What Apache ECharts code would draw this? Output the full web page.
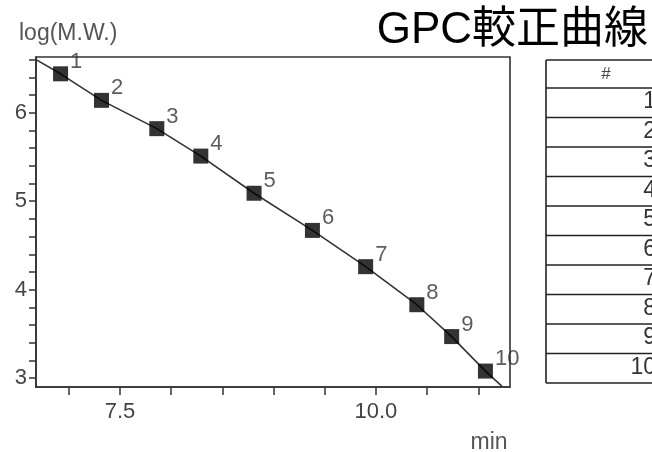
<!DOCTYPE html>
<html><head><meta charset="utf-8">
<script src="https://cdn.jsdelivr.net/npm/echarts@6/dist/echarts.min.js"></script>
<style>html,body{margin:0;padding:0;background:#fff}#c{width:652px;height:452px}</style>
</head><body><div id="c"></div>
<script>
const titleText = 'GPC較正曲線';
const yAxisTitle = 'log(M.W.)';
const xAxisTitle = 'min';
const pointLabels = ['1','2','3','4','5','6','7','8','9','10'];
const retentionTimes = [6.92, 7.32, 7.86, 8.29, 8.81, 9.38, 9.90, 10.40, 10.74, 11.07];
const logMW = [6.44, 6.14, 5.82, 5.51, 5.09, 4.67, 4.26, 3.83, 3.47, 3.08];
const fitTimes = [6.68, 6.92, 7.32, 7.86, 8.29, 8.81, 9.38, 9.90, 10.40, 10.74, 11.07, 11.23];
const fitLogMW = [6.60, 6.44, 6.14, 5.82, 5.51, 5.09, 4.67, 4.26, 3.83, 3.47, 3.08, 2.91];
const xTicks = [7.0, 7.5, 8.0, 8.5, 9.0, 9.5, 10.0, 10.5, 11.0];
const xTickLabels = [7.5, 10.0];
const yTicks = [3.0, 3.2, 3.4, 3.6, 3.8, 4.0, 4.2, 4.4, 4.6, 4.8, 5.0, 5.2, 5.4, 5.6, 5.8, 6.0, 6.2, 6.4, 6.6];
const yTickLabels = [3, 4, 5, 6];
const tableHeader = '#';
const tableRows = ['1','2','3','4','5','6','7','8','9','10'];

const FONT = "'Liberation Sans', Arial, sans-serif";
const chart = echarts.init(document.getElementById('c'), null, {renderer: 'canvas'});

// table layout
const tLeft = 546, tRight = 700, tTop = 60, headH = 28, rowH = 29.5;
const tableEls = [];
const lineStyle = {stroke: '#222', lineWidth: 1.6};
tableEls.push({type: 'line', shape: {x1: tLeft, y1: tTop, x2: tRight, y2: tTop}, style: lineStyle});
tableEls.push({type: 'line', shape: {x1: tLeft, y1: tTop, x2: tLeft, y2: tTop + headH + rowH * tableRows.length}, style: lineStyle});
tableEls.push({type: 'text', style: {text: tableHeader, x: 606, y: tTop + headH / 2, align: 'center', verticalAlign: 'middle', fill: '#444', font: '17px ' + FONT}});
tableRows.forEach((r, i) => {
  const y0 = tTop + headH + rowH * i;
  tableEls.push({type: 'line', shape: {x1: tLeft, y1: y0, x2: tRight, y2: y0}, style: lineStyle});
  tableEls.push({type: 'text', style: {text: r, x: 656, y: y0 + rowH / 2 - 1, align: 'right', verticalAlign: 'middle', fill: '#333', font: '23px ' + FONT}});
});
const yEnd = tTop + headH + rowH * tableRows.length;
tableEls.push({type: 'line', shape: {x1: tLeft, y1: yEnd, x2: tRight, y2: yEnd}, style: lineStyle});

chart.setOption({
  animation: false,
  backgroundColor: '#fff',
  grid: {left: 36, right: 142, top: 57, bottom: 65, show: true, borderColor: '#333', borderWidth: 1.6},
  xAxis: {
    type: 'value', min: 6.68, max: 11.31,
    axisLine: {show: true, lineStyle: {color: '#333', width: 1.6}},
    axisTick: {show: true, customValues: xTicks, length: 8, lineStyle: {color: '#333', width: 1.5}},
    axisLabel: {show: true, customValues: xTickLabels, formatter: v => Number(v).toFixed(1), fontSize: 22, color: '#444', fontFamily: FONT, margin: 14},
    splitLine: {show: false}
  },
  yAxis: {
    type: 'value', min: 2.90, max: 6.63,
    axisLine: {show: true, lineStyle: {color: '#333', width: 1.6}},
    axisTick: {show: true, customValues: yTicks, length: 7, lineStyle: {color: '#333', width: 1.5}},
    axisLabel: {show: true, customValues: yTickLabels, formatter: v => String(Math.round(v)), fontSize: 22, color: '#444', fontFamily: FONT, margin: 9},
    splitLine: {show: false}
  },
  series: [
    {
      type: 'line', data: fitTimes.map((x, i) => [x, fitLogMW[i]]),
      symbol: 'none', lineStyle: {color: '#333', width: 1.6}, silent: true, z: 2
    },
    {
      type: 'scatter', data: retentionTimes.map((x, i) => [x, logMW[i]]),
      symbol: 'rect', symbolSize: 15, itemStyle: {color: '#000'}, z: 3,
      label: {show: true, position: 'right', distance: 2, offset: [0, -12],
        formatter: p => pointLabels[p.dataIndex], fontSize: 22, color: '#333', fontFamily: FONT}
    }
  ],
  graphic: [
    {type: 'text', style: {text: titleText, x: 648, y: 31, align: 'right', verticalAlign: 'middle', fill: '#000', font: "44px 'Liberation Sans', 'Noto Sans CJK JP', sans-serif"}},
    {type: 'text', style: {text: yAxisTitle, x: 19, y: 34, align: 'left', verticalAlign: 'middle', fill: '#555', font: '23px ' + FONT}},
    {type: 'text', style: {text: xAxisTitle, x: 489, y: 443, align: 'center', verticalAlign: 'middle', fill: '#555', font: '23px ' + FONT}},
    {type: 'group', children: tableEls}
  ]
});
</script></body></html>
